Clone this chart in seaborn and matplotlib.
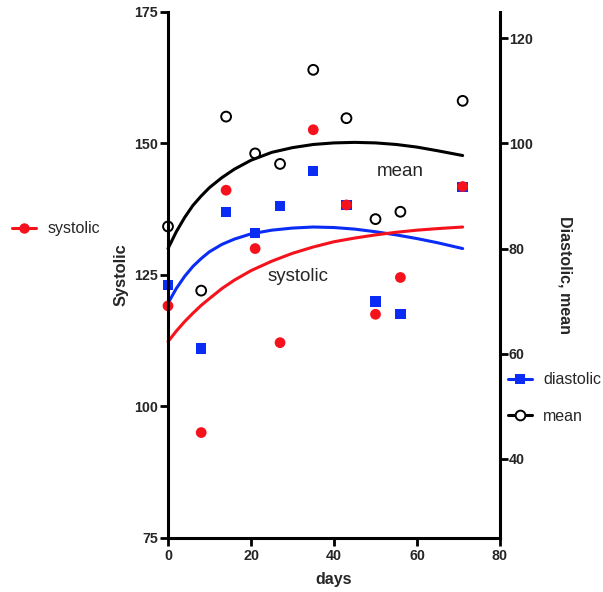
import matplotlib
matplotlib.use("Agg")
import matplotlib.pyplot as plt
import seaborn as sns
import pandas as pd
from matplotlib.lines import Line2D

# ---- data ----
days = [0, 8, 14, 21, 27, 35, 43, 50, 56, 71]
systolic = [119.1, 95.0, 141.1, 130.0, 112.1, 152.6, 138.3, 117.5, 124.5, 141.8]
diastolic = [73.1, 61.0, 87.0, 83.0, 88.1, 94.8, 88.3, 69.9, 67.5, 91.7]
mean_bp = [84.2, 72.0, 105.1, 98.1, 96.1, 114.0, 104.8, 85.6, 87.0, 108.1]

fit_days = [0, 2, 4, 6, 8, 10, 13, 16, 20, 25, 30, 35, 40, 45, 50, 55, 60, 65, 71]
systolic_fit = [112.3, 114.3, 116.1, 117.7, 119.2, 120.5, 122.4, 124.0, 125.8, 127.6,
                129.1, 130.3, 131.3, 132.0, 132.6, 133.1, 133.5, 133.8, 134.1]
diastolic_fit = [69.6, 72.4, 74.7, 76.6, 78.1, 79.4, 80.8, 81.8, 82.8, 83.5,
                 83.9, 84.1, 84.0, 83.7, 83.2, 82.6, 81.9, 81.1, 80.0]
mean_fit = [80.0, 83.2, 85.9, 88.2, 90.0, 91.6, 93.5, 95.1, 96.8, 98.3,
            99.2, 99.8, 100.1, 100.2, 100.1, 99.8, 99.3, 98.6, 97.7]

x_ticks = [0, 20, 40, 60, 80]
left_ticks = [75, 100, 125, 150, 175]
right_ticks = [40, 60, 80, 100, 120]

RED = "#f5121c"
BLUE = "#0a2cf5"
BLACK = "#000000"

sns.set_theme(style="ticks")
plt.rcParams["font.family"] = ["Liberation Sans", "DejaVu Sans"]

fig = plt.figure(figsize=(6.03, 5.92), dpi=100)
ax = fig.add_axes([168 / 603, 1 - 537.7 / 592, 332 / 603, 525.7 / 592])
ax2 = ax.twinx()

pts = pd.DataFrame({"days": days, "systolic": systolic,
                    "diastolic": diastolic, "mean": mean_bp})
fits = pd.DataFrame({"days": fit_days, "systolic": systolic_fit,
                     "diastolic": diastolic_fit, "mean": mean_fit})

# right axis: diastolic + mean
sns.lineplot(data=fits, x="days", y="diastolic", ax=ax2, color=BLUE, lw=2.2,
             legend=False)
sns.lineplot(data=fits, x="days", y="mean", ax=ax2, color=BLACK, lw=2.2,
             legend=False)
sns.scatterplot(data=pts, x="days", y="diastolic", ax=ax2, marker="s", s=56,
                color=BLUE, edgecolor="none", linewidth=0, legend=False)
sns.scatterplot(data=pts, x="days", y="mean", ax=ax2, marker="o", s=50,
                facecolor="none", edgecolor=BLACK, linewidth=1.4, legend=False)
ax2.collections[-1].set_facecolor("none")

# left axis: systolic (drawn above right axis)
sns.lineplot(data=fits, x="days", y="systolic", ax=ax, color=RED, lw=2.2,
             legend=False)
sns.scatterplot(data=pts, x="days", y="systolic", ax=ax, marker="o", s=60,
                color=RED, edgecolor="none", linewidth=0, legend=False)

for a in (ax, ax2):
    for c in a.collections:
        c.set_clip_on(False)
    for l in a.lines:
        l.set_clip_on(False)

ax.set_zorder(ax2.get_zorder() + 1)
ax.patch.set_visible(False)

ax.set_xlim(0, 80)
ax.set_ylim(75, 175)
ax2.set_ylim(25, 125)
ax.set_xticks(x_ticks)
ax.set_yticks(left_ticks)
ax2.set_yticks(right_ticks)

for a in (ax, ax2):
    a.spines["top"].set_visible(False)
    for s in a.spines.values():
        s.set_linewidth(2.2)
        s.set_color("black")
ax.spines["right"].set_visible(False)
ax2.spines["left"].set_visible(False)
ax2.spines["bottom"].set_visible(False)

ax.tick_params(axis="both", length=5.8, width=2.0, color="black", pad=1.5)
ax.tick_params(axis="x", pad=2.5)
ax2.tick_params(axis="y", length=5.8, width=2.0, color="black", pad=0.5)
for lab in ax.get_xticklabels() + ax.get_yticklabels() + ax2.get_yticklabels():
    lab.set_fontsize(10.3)
    lab.set_fontweight("bold")

ax.set_xlabel("days", fontsize=11.5, fontweight="bold", va="center")
ax.xaxis.set_label_coords(0.5, -0.0786)
ax.set_ylabel("Systolic", fontsize=11.8, fontweight="bold", va="center")
ax.yaxis.set_label_coords(-0.1416, 0.5)
ax2.set_ylabel("Diastolic, mean", fontsize=11.5, fontweight="bold",
               rotation=-90, va="center", ha="center")
ax2.yaxis.set_label_coords(1.196, 0.5)

# curve annotations
ax.text(23.9, 123.8, "systolic", fontsize=13.5, ha="left", va="baseline")
ax2.text(50.3, 93.8, "mean", fontsize=13.5, ha="left", va="baseline")

# legends
h_sys = Line2D([], [], color=RED, lw=2.2, marker="o", markersize=7.5,
               markeredgewidth=0)
fig.legend(handles=[h_sys], labels=["systolic"], loc="center left",
           bbox_to_anchor=(12 / 603, 1 - 229 / 592), frameon=False,
           fontsize=11.5, handlelength=1.5, handletextpad=0.7,
           borderpad=0, borderaxespad=0)

h_dia = Line2D([], [], color=BLUE, lw=2.2, marker="s", markersize=7.5,
               markeredgewidth=0)
h_mean = Line2D([], [], color=BLACK, lw=2.2, marker="o", markersize=7,
                markerfacecolor="white", markeredgecolor=BLACK,
                markeredgewidth=1.4)
fig.legend(handles=[h_dia, h_mean], labels=["diastolic", "mean"],
           loc="center left", bbox_to_anchor=(508 / 603, 1 - 398 / 592),
           frameon=False, fontsize=11.5, handlelength=1.5, handletextpad=0.7,
           labelspacing=1.32, borderpad=0, borderaxespad=0)

fig.savefig("out.png", dpi=100)
